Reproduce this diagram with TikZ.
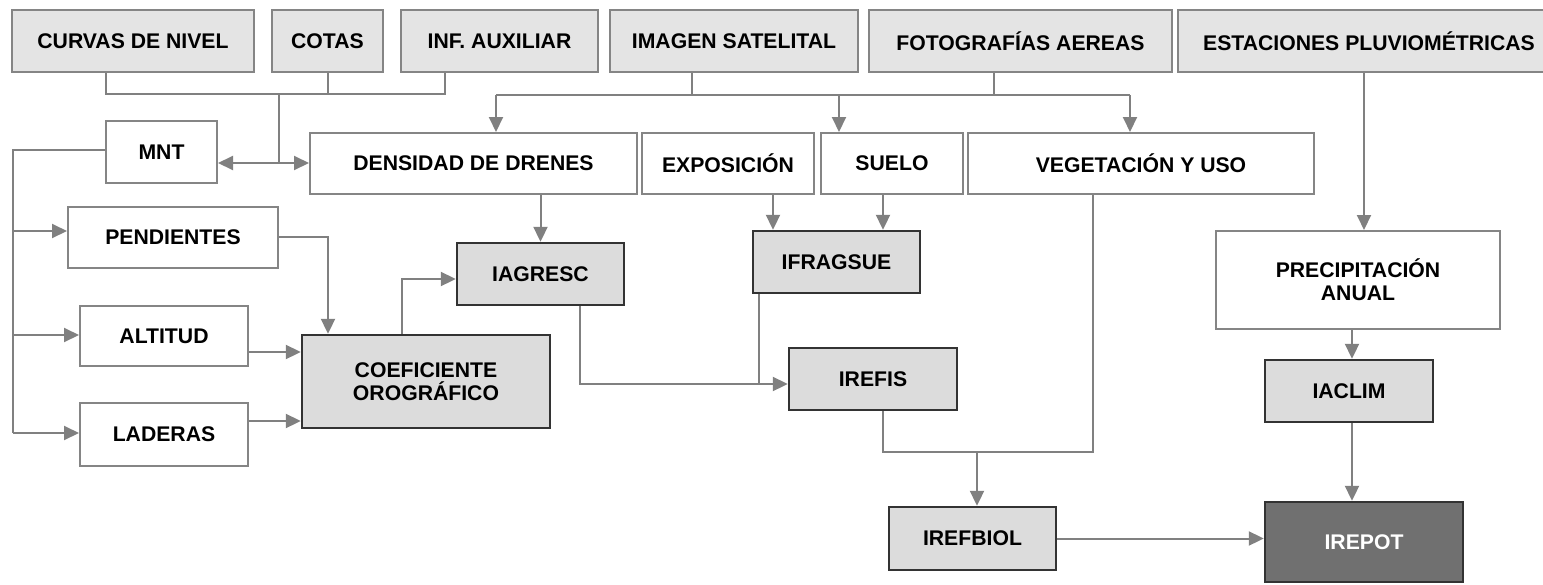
\documentclass[tikz,border=0pt]{standalone}
\usepackage{fontspec}
\setmainfont{Liberation Sans}
\usetikzlibrary{arrows.meta}
\definecolor{lin}{HTML}{808080}
\definecolor{srcfill}{HTML}{E4E4E4}
\definecolor{srcdraw}{HTML}{858585}
\definecolor{idxfill}{HTML}{DCDCDC}
\definecolor{idxdraw}{HTML}{333333}
\definecolor{finfill}{HTML}{707070}
\newcommand\mkbox[7]{%
  \pgfmathsetmacro\mkbcx{(#3+#5)/2}%
  \pgfmathsetmacro\mkbcy{(#4+#6)/2}%
  \pgfmathsetmacro\mkbw{(#5-#3)*0.5}%
  \pgfmathsetmacro\mkbh{(#6-#4)*0.5}%
  \node[#2,minimum width=\mkbw pt,minimum height=\mkbh pt] (#1) at (\mkbcx,\mkbcy) {#7};}
\begin{document}
\begin{tikzpicture}[x=0.5pt,y=-0.5pt,
  every node/.style={font=\fontsize{10.6}{11.5}\selectfont\bfseries, inner sep=0pt, align=center},
  srcbox/.style={draw=srcdraw, fill=srcfill, line width=1pt},
  whitebox/.style={draw=srcdraw, fill=white, line width=1pt},
  idxbox/.style={draw=idxdraw, fill=idxfill, line width=1.2pt},
  finbox/.style={draw=idxdraw, fill=finfill, line width=1.2pt, text=white},
  conn/.style={draw=lin, line width=1pt},
  arr/.style={conn, -{Triangle[length=7.5pt,width=7pt]}, lin}]
\useasboundingbox (0,0) rectangle (1543,584);
\fill[white] (0,0) rectangle (1543,584);
% top row
\mkbox{curvas}{srcbox}{12}{10}{254}{72}{CURVAS DE NIVEL}
\mkbox{cotas}{srcbox}{272}{10}{383}{72}{COTAS}
\mkbox{infaux}{srcbox}{401}{10}{598}{72}{INF. AUXILIAR}
\mkbox{imagen}{srcbox}{610}{10}{858}{72}{IMAGEN SATELITAL}
\mkbox{foto}{srcbox}{869}{10}{1172}{72}{FOTOGRAFÍAS AEREAS}
\mkbox{estac}{srcbox}{1178}{10}{1560}{72}{ESTACIONES PLUVIOMÉTRICAS}
% second row
\mkbox{mnt}{whitebox}{106}{121}{217}{183}{MNT}
\mkbox{densidad}{whitebox}{310}{133}{637}{194}{DENSIDAD DE DRENES}
\mkbox{expos}{whitebox}{642}{133}{814}{194}{EXPOSICIÓN}
\mkbox{suelo}{whitebox}{821}{133}{963}{194}{SUELO}
\mkbox{veg}{whitebox}{968}{133}{1314}{194}{VEGETACIÓN Y USO}
% left column
\mkbox{pend}{whitebox}{68}{207}{278}{268}{PENDIENTES}
\mkbox{altitud}{whitebox}{80}{306}{248}{366}{ALTITUD}
\mkbox{laderas}{whitebox}{80}{403}{248}{466}{LADERAS}
% indices
\mkbox{coef}{idxbox}{302}{335}{550}{428}{COEFICIENTE\\OROGRÁFICO}
\mkbox{iagresc}{idxbox}{457}{243}{624}{305}{IAGRESC}
\mkbox{ifragsue}{idxbox}{753}{231}{920}{293}{IFRAGSUE}
\mkbox{irefis}{idxbox}{789}{348}{957}{410}{IREFIS}
\mkbox{precip}{whitebox}{1216}{231}{1500}{329}{PRECIPITACIÓN\\ANUAL}
\mkbox{iaclim}{idxbox}{1265}{360}{1433}{422}{IACLIM}
\mkbox{irefbiol}{idxbox}{889}{507}{1056}{570}{IREFBIOL}
\mkbox{irepot}{finbox}{1265}{502}{1463}{582}{IREPOT}
% helper coordinates
\coordinate (j1) at (279,94);
\coordinate (j2) at (279,163);
\coordinate (X106) at (106,0);
\coordinate (X445) at (445,0);
\coordinate (b1) at (496,95);
\coordinate (b2) at (1130,95);
\coordinate (b3) at (839,95);
\coordinate (Ximg) at (692,0);
\coordinate (Xfoto) at (994,0);
\coordinate (X773) at (773,0);
\coordinate (X883) at (883,0);
\coordinate (X580) at (580,0);
\coordinate (j4) at (759,384);
\coordinate (j5) at (402,279);
\coordinate (j6) at (328,237);
\coordinate (Y150) at (0,150);
\coordinate (Y352) at (0,352);
\coordinate (Y421) at (0,421);
\coordinate (L1) at (13,231);
\coordinate (L2) at (13,335);
\coordinate (L3) at (13,433);
\coordinate (k1) at (883,452);
\coordinate (k2) at (1093,452);
\coordinate (k3) at (977,452);
\coordinate (X1364) at (1364,0);
\coordinate (X1352) at (1352,0);
% connectors: terrain sources
\draw[conn] (curvas.south -| X106) |- (j1) -| (infaux.south -| X445);
\draw[conn] (cotas.south) -- (cotas.south |- j1);
\draw[conn] (j1) -- (j2);
\draw[arr] (j2) -- (mnt.east |- j2);
\draw[arr] (j2) -- (densidad.west |- j2);
% image / photo bus
\draw[conn] (imagen.south -| Ximg) -- (Ximg |- b1);
\draw[conn] (foto.south -| Xfoto) -- (Xfoto |- b1);
\draw[conn] (b1) -- (b2);
\draw[arr] (b1) -- (densidad.north -| b1);
\draw[arr] (b3) -- (suelo.north -| b3);
\draw[arr] (b2) -- (veg.north -| b2);
% MNT derivatives
\draw[conn] (mnt.west |- Y150) -| (L3);
\draw[arr] (L1) -- (pend.west |- L1);
\draw[arr] (L2) -- (altitud.west |- L2);
\draw[arr] (L3) -- (laderas.west |- L3);
% to coeficiente
\draw[arr] (pend.east |- j6) -| (coef.north -| j6);
\draw[arr] (altitud.east |- Y352) -- (coef.west |- Y352);
\draw[arr] (laderas.east |- Y421) -- (coef.west |- Y421);
\draw[arr] (coef.north -| j5) |- (iagresc.west |- j5);
% indices
\draw[arr] (iagresc.north |- densidad.south) -- (iagresc.north);
\draw[arr] (expos.south -| X773) -- (ifragsue.north -| X773);
\draw[arr] (suelo.south -| X883) -- (ifragsue.north -| X883);
\draw[conn] (ifragsue.south -| j4) -- (j4);
\draw[arr] (iagresc.south -| X580) |- (irefis.west |- j4);
\draw[conn] (irefis.south -| k1) -- (k1) -- (k2) -- (veg.south -| k2);
\draw[arr] (k3) -- (irefbiol.north -| k3);
\draw[arr] (irefbiol.east) -- (irepot.west |- irefbiol.east);
\draw[arr] (estac.south -| X1364) -- (precip.north -| X1364);
\draw[arr] (precip.south -| X1352) -- (iaclim.north -| X1352);
\draw[arr] (iaclim.south -| X1352) -- (irepot.north -| X1352);
\end{tikzpicture}
\end{document}
